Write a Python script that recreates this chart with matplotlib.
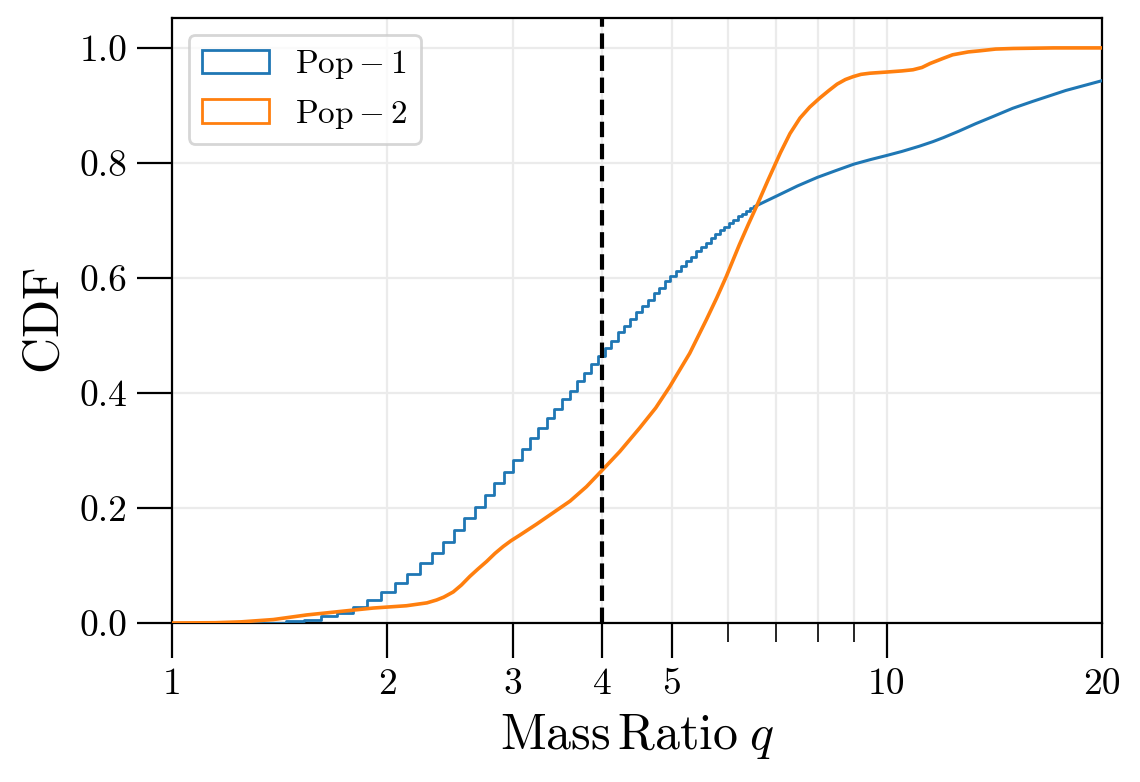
import numpy as np
import matplotlib
matplotlib.use("Agg")
import matplotlib.pyplot as plt
from matplotlib.patches import Patch
from matplotlib.ticker import FixedLocator, NullFormatter

# ---------------- data ----------------
# Pop-1: histogram CDF with linear bins of width ~0.0862 starting at q ~ 1.445
pop1_first_edge = 1.445
pop1_bin_width = 0.0862
pop1_step_cdf = [
    0.003, 0.006, 0.012, 0.018, 0.028, 0.040, 0.054, 0.070, 0.085, 0.104,
    0.122, 0.141, 0.162, 0.182, 0.202, 0.223, 0.243, 0.263, 0.283, 0.303,
    0.321, 0.339, 0.356, 0.372, 0.389, 0.404, 0.420, 0.435, 0.450, 0.464,
    0.478, 0.490, 0.506, 0.517, 0.529, 0.540, 0.552, 0.562, 0.573, 0.583,
    0.594, 0.603, 0.612, 0.621, 0.630, 0.637, 0.646, 0.653, 0.661, 0.669,
    0.676, 0.683, 0.689, 0.695, 0.701, 0.707, 0.711, 0.717, 0.721,
]
# Pop-1 upper tail (fine bins, read as a curve)
pop1_tail_q = [6.53, 7.0, 7.5, 8.0, 8.5, 9.0, 9.5, 10.0, 10.5, 11.1, 11.6, 12.0,
               12.6, 13.3, 14.1, 15.0, 16.0, 17.8, 20.0]
pop1_tail_cdf = [0.724, 0.742, 0.760, 0.775, 0.787, 0.798, 0.806, 0.813, 0.820,
                 0.829, 0.837, 0.844, 0.855, 0.868, 0.881, 0.895, 0.907, 0.926, 0.943]

# Pop-2: fine-binned CDF, read as a curve
pop2_q = [1.0, 1.15, 1.25, 1.386, 1.543, 1.717, 1.911, 2.128, 2.273, 2.345, 2.40,
          2.474, 2.54, 2.61, 2.68, 2.755, 2.83, 2.906, 2.98, 3.068, 3.237, 3.416,
          3.605, 3.80, 4.0, 4.23, 4.51, 4.75, 4.97, 5.30, 5.59, 5.78, 5.96, 6.22,
          6.40, 6.57, 6.82, 7.1, 7.32, 7.56, 7.8, 8.06, 8.3, 8.52, 8.75, 8.97,
          9.2, 9.47, 9.99, 10.5, 10.88, 11.2, 11.5, 12.0, 12.36, 13.0, 13.5,
          14.2, 15.03, 17.1, 20.0]
pop2_cdf = [0.0, 0.0005, 0.002, 0.006, 0.014, 0.020, 0.026, 0.030, 0.035, 0.040, 0.045,
            0.054, 0.066, 0.081, 0.094, 0.107, 0.121, 0.133, 0.143, 0.153, 0.172, 0.192,
            0.212, 0.237, 0.266, 0.298, 0.339, 0.374, 0.411, 0.469, 0.527, 0.565, 0.602,
            0.658, 0.693, 0.724, 0.770, 0.818, 0.851, 0.878, 0.897, 0.913, 0.926, 0.937,
            0.945, 0.950, 0.954, 0.956, 0.958, 0.960, 0.962, 0.966, 0.973, 0.982, 0.988,
            0.993, 0.995, 0.998, 0.999, 1.0, 1.0]

series_labels = [r'$\mathrm{Pop}-1$', r'$\mathrm{Pop}-2$']
series_colors = ['#1f77b4', '#ff7f0e']
q_cut = 4.0

x_major = [1, 2, 3, 4, 5, 10, 20]
x_major_labels = ['1', '2', '3', '4', '5', '10', '20']
x_minor = [6, 7, 8, 9]
y_ticks = [0.0, 0.2, 0.4, 0.6, 0.8, 1.0]
y_tick_labels = ['0.0', '0.2', '0.4', '0.6', '0.8', '1.0']

# ---------------- style ----------------
plt.rcParams['font.family'] = 'serif'
plt.rcParams['font.serif'] = ['cmr10', 'DejaVu Serif']
plt.rcParams['mathtext.fontset'] = 'cm'
plt.rcParams['axes.unicode_minus'] = False

fig = plt.figure(figsize=(5.7, 3.91), dpi=200)
ax = fig.add_axes([172 / 1140, 1 - 623 / 782, 930 / 1140, 605 / 782])

# Pop-1 staircase
edges = pop1_first_edge + pop1_bin_width * np.arange(len(pop1_step_cdf))
x1 = np.concatenate([[1.0], edges, [pop1_tail_q[0]]])
y1 = np.concatenate([[0.0], pop1_step_cdf, [pop1_step_cdf[-1]]])
ax.step(x1, y1, where='post', color=series_colors[0], lw=1.0, zorder=3)
ax.plot(pop1_tail_q, pop1_tail_cdf, color=series_colors[0], lw=1.1, zorder=3)

# Pop-2
ax.plot(pop2_q, pop2_cdf, color=series_colors[1], lw=1.3, zorder=4)

ax.axvline(q_cut, color='black', ls='--', lw=1.5, zorder=5)

ax.set_xscale('log')
ax.set_xlim(1, 20)
ax.set_ylim(0, 1.052)
ax.xaxis.set_major_locator(FixedLocator(x_major))
ax.set_xticklabels(x_major_labels)
ax.xaxis.set_minor_locator(FixedLocator(x_minor))
ax.xaxis.set_minor_formatter(NullFormatter())
ax.set_yticks(y_ticks)
ax.set_yticklabels(y_tick_labels)

ax.tick_params(axis='both', which='major', length=12.5, width=0.8, labelsize=13.5)
ax.tick_params(axis='x', which='minor', length=6.8, width=0.6)
ax.grid(True, which='both', axis='x', color='#ebebeb', lw=0.8, zorder=0)
ax.grid(True, which='major', axis='y', color='#ebebeb', lw=0.8, zorder=0)
ax.set_axisbelow(True)

ax.set_xlabel(r'$\mathrm{Mass\,Ratio}\;q$', fontsize=18)
ax.set_ylabel(r'$\mathrm{CDF}$', fontsize=18)

handles = [Patch(facecolor='none', edgecolor=c, lw=1.0) for c in series_colors]
ax.legend(handles, series_labels, loc='upper left', fontsize=12,
          framealpha=0.8, edgecolor='#cccccc', borderaxespad=0.5)

fig.savefig('out.png', dpi=200)
